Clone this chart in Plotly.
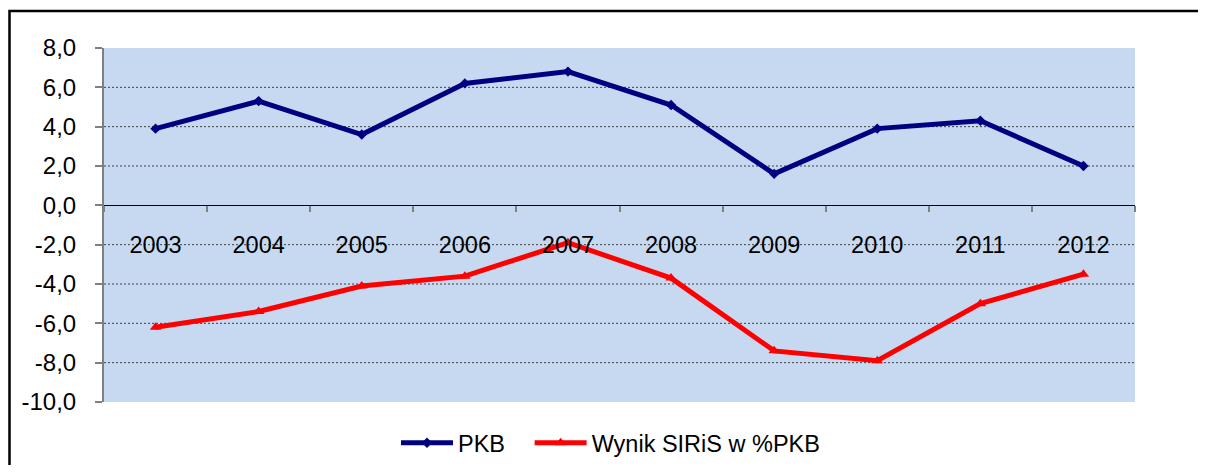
import plotly.graph_objects as go

years = ["2003", "2004", "2005", "2006", "2007", "2008", "2009", "2010", "2011", "2012"]
pkb = [3.9, 5.3, 3.6, 6.2, 6.8, 5.1, 1.6, 3.9, 4.3, 2.0]
wynik = [-6.2, -5.4, -4.1, -3.6, -1.9, -3.7, -7.4, -7.9, -5.0, -3.5]
y_ticks = [8, 6, 4, 2, 0, -2, -4, -6, -8, -10]
y_tick_labels = ["8,0", "6,0", "4,0", "2,0", "0,0", "-2,0", "-4,0", "-6,0", "-8,0", "-10,0"]
grid_vals = [6, 4, 2, -2, -4, -6, -8]
y_min, y_max = -10, 8

FONT = "Liberation Sans, Arial, sans-serif"

# page has an 8px body margin; compensate so the plot lands where the reference has it
OFF = 8
PAGE_W, PAGE_H = 1206, 473
W, H = PAGE_W - 2 * OFF, PAGE_H - 2 * OFF
PL, PR, PT, PB = 104, 1135, 48, 402  # plot area in page pixels
L, T = PL - OFF, PT - OFF
R = W - (PR - OFF)
B = H - (PB - OFF)
pw, ph = PR - PL, PB - PT


def px(x):
    return (x - PL) / pw


def py(y):
    return 1 - (y - PT) / ph


fig = go.Figure()
fig.add_trace(go.Scatter(
    x=years, y=pkb, name="PKB\u00a0\u00a0\u00a0", mode="lines+markers",
    line=dict(color="#000080", width=5),
    marker=dict(symbol="diamond", size=8, color="#000080"),
))
fig.add_trace(go.Scatter(
    x=years, y=wynik, name="Wynik SIRiS w %PKB", mode="lines+markers",
    line=dict(color="#FF0000", width=5),
    marker=dict(symbol="triangle-up", size=10, color="#FF0000"),
))

for g in grid_vals:
    fig.add_shape(type="line", xref="x domain", yref="y", x0=0, x1=1, y0=g, y1=g,
                  line=dict(color="#404040", width=1, dash="2px,2px"), layer="below")

# outer border (right and bottom edges fall outside the picture, as in the reference)
fig.add_shape(type="rect", xref="paper", yref="paper",
              x0=px(9.5), x1=px(1230), y0=py(11), y1=py(500),
              line=dict(color="black", width=2.5), fillcolor="rgba(0,0,0,0)")

fig.add_annotation(text="<b>do PKB</b>", xref="paper", yref="paper",
                   x=px(6), y=py(13), xanchor="left", yanchor="bottom",
                   showarrow=False, font=dict(family=FONT, size=21, color="black"))

fig.update_layout(
    width=W, height=H,
    margin=dict(l=L, r=R, t=T, b=B, autoexpand=False),
    paper_bgcolor="white",
    plot_bgcolor="#C6D9F1",
    font=dict(family=FONT, size=23, color="black"),
    showlegend=True,
    legend=dict(orientation="h", x=px(396), xanchor="left", y=py(443), yanchor="middle",
                font=dict(family=FONT, size=23.5, color="black"),
                bgcolor="rgba(0,0,0,0)", itemwidth=52, tracegroupgap=0),
    xaxis=dict(
        type="category", categoryorder="array", categoryarray=years,
        anchor="free", position=(0 - y_min) / (y_max - y_min),
        showline=True, linecolor="black", linewidth=1,
        ticks="outside", tickson="boundaries", ticklen=6, tickcolor="#808080", tickwidth=2,
        showgrid=False, zeroline=False,
        ticklabelstandoff=18,
        tickfont=dict(family=FONT, size=23.5, color="black"),
        range=[-0.5, 9.5],
    ),
    yaxis=dict(
        range=[y_min, y_max], tickmode="array", tickvals=y_ticks, ticktext=y_tick_labels,
        showline=True, linecolor="#808080", linewidth=2,
        ticks="outside", ticklen=7, tickcolor="#808080", tickwidth=2,
        showgrid=False, zeroline=False,
        ticklabelstandoff=14,
        tickfont=dict(family=FONT, size=24, color="black"),
    ),
)

fig.write_html("out.html")
